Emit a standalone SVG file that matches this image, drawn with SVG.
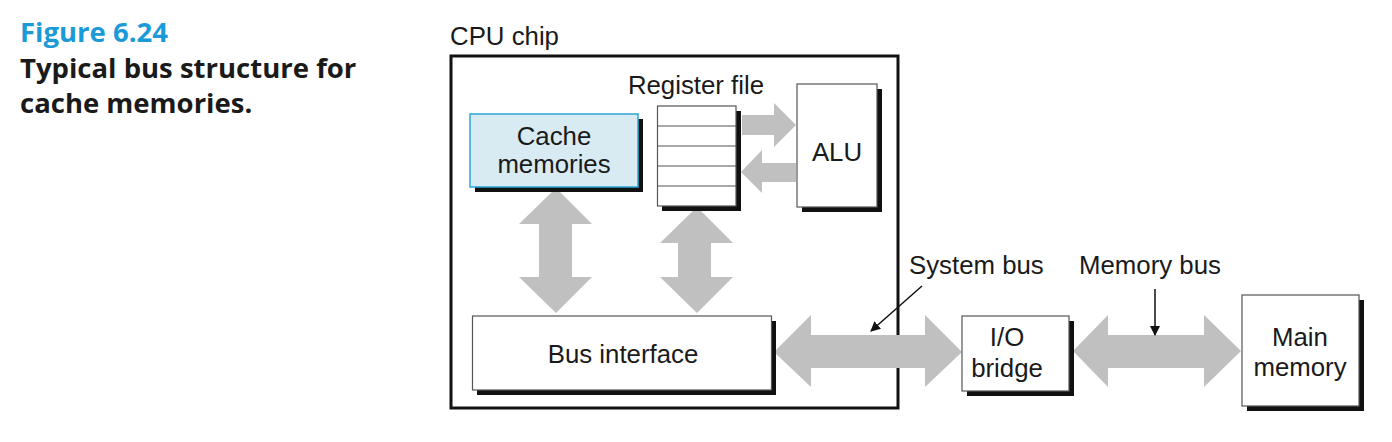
<svg xmlns="http://www.w3.org/2000/svg" width="1392" height="442" viewBox="0 0 1392 442">
<style>
.t{font-family:"Liberation Sans",Arial,sans-serif;font-size:25.8px;fill:#1a1a1a}
.c{text-anchor:middle}
.box{fill:#fff;stroke:#555;stroke-width:1.2}
.sh{fill:#111}
.bus{fill:#c0c0c0}
.cap{font-family:"Open Sans","Noto Sans",sans-serif;font-weight:bold;font-size:27.5px}
</style>
<defs>
<marker id="ah" viewBox="0 0 10 10" refX="9" refY="5" markerWidth="10" markerHeight="10" markerUnits="userSpaceOnUse" orient="auto">
<path d="M0,0 L10,5 L0,10 z" fill="#111"/>
</marker>
</defs>
<rect width="1392" height="442" fill="#fff"/>
<g id="caption">
<text class="cap" x="20" y="42" fill="#1a9bd7">Figure 6.24</text>
<text class="cap" x="20" y="78" fill="#1a1a1a">Typical bus structure for</text>
<text class="cap" x="20" y="113" fill="#1a1a1a">cache memories.</text>
</g>
<g id="cpu-chip">
<rect x="451" y="56" width="447" height="352" fill="none" stroke="#111" stroke-width="3"/>
<text class="t" x="450" y="45">CPU chip</text>
</g>
<g id="connectors">
<path class="bus" d="M742,115 H774 V103 L796,125 L774,147 V135 H742 Z"/>
<path class="bus" d="M796,163 H762 V150 L741,172 L762,193 V182 H796 Z"/>
<path class="bus" d="M556,188 L592,224 H572 V277 H592 L556,313 L519,277 H539 V224 H519 Z"/>
<path class="bus" d="M697,207 L733,243 H711 V277 H733 L697,313 L660,277 H678 V243 H660 Z"/>
<path class="bus" d="M774,352 L811,315 V335 H925 V315 L962,352 L925,387 V368 H811 V387 Z"/>
<path class="bus" d="M1073,351 L1108,315 V335 H1204 V315 L1241,351 L1204,387 V368 H1108 V387 Z"/>
<line x1="922" y1="286" x2="871" y2="331" stroke="#111" stroke-width="1.5" marker-end="url(#ah)"/>
<line x1="1155" y1="289" x2="1155" y2="335" stroke="#111" stroke-width="1.5" marker-end="url(#ah)"/>
<text class="t" x="909" y="274">System bus</text>
<text class="t" x="1079" y="274">Memory bus</text>
</g>
<g id="cache-memories">
<rect class="sh" x="475" y="119" width="168" height="73"/>
<rect x="470" y="114" width="168" height="73" fill="#d8ebf2" stroke="#2aa6d6" stroke-width="1.5"/>
<text class="t c" x="554" y="145">Cache</text>
<text class="t c" x="554" y="173">memories</text>
</g>
<g id="register-file">
<rect class="sh" x="662" y="111" width="79" height="100"/>
<rect class="box" x="657.5" y="106" width="78.5" height="100"/>
<path d="M657.5,126 H736 M657.5,146 H736 M657.5,166 H736 M657.5,186 H736" stroke="#555" stroke-width="1"/>
<text class="t c" x="696" y="94">Register file</text>
</g>
<g id="alu">
<rect class="sh" x="802" y="89" width="80" height="123"/>
<rect class="box" x="797" y="84" width="80" height="123"/>
<text class="t c" x="837" y="161">ALU</text>
</g>
<g id="bus-interface">
<rect class="sh" x="477" y="321" width="299" height="74"/>
<rect class="box" x="472.5" y="316" width="299" height="74"/>
<text class="t c" x="623" y="363">Bus interface</text>
</g>
<g id="io-bridge">
<rect class="sh" x="967" y="321" width="107" height="75"/>
<rect class="box" x="962" y="316" width="107" height="75"/>
<text class="t c" x="1007" y="346">I/O</text>
<text class="t c" x="1007" y="377">bridge</text>
</g>
<g id="main-memory">
<rect class="sh" x="1247" y="300" width="117" height="111"/>
<rect class="box" x="1242" y="295" width="117" height="111"/>
<text class="t c" x="1300" y="346">Main</text>
<text class="t c" x="1300" y="376">memory</text>
</g>
</svg>
